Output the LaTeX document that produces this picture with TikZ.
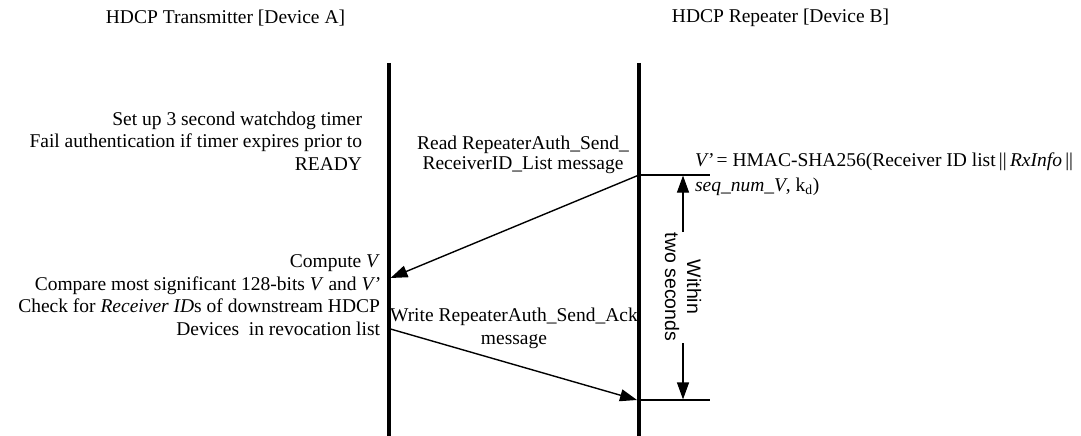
\documentclass[tikz,border=0pt]{standalone}
\usepackage{fontspec}
\setmainfont{Liberation Serif}
\newfontfamily\arialf{Liberation Sans}
\usetikzlibrary{arrows.meta}
\begin{document}
\begin{tikzpicture}[x=1pt,y=-1pt,
  font=\fontsize{19.5}{22.5}\selectfont,
  every node/.style={inner sep=0pt,outer sep=0pt},
  life/.style={line width=4pt},
  msg/.style={line width=1.4pt,-{Triangle[length=17pt,width=12pt]}},
  tick/.style={line width=1.2pt},
  dim/.style={line width=1.2pt,-{Triangle[length=17pt,width=12pt]}},
  lbl/.style={align=center},
  side/.style={align=right,anchor=east}]
\useasboundingbox (0,0) rectangle (1081,436);
% headers
\node (hA) at (225.5,18) {HDCP Transmitter [Device A]};
\node (hB) at (780.5,18) {HDCP Repeater [Device B]};
% lifelines
\coordinate (aTop) at (388.5,63);
\coordinate (aBot) at (388.5,436);
\coordinate (bTop) at (639,63);
\coordinate (bBot) at (639,436);
\draw[life] (aTop) -- (aBot);
\draw[life] (bTop) -- (bBot);
% left texts
\node[side] (t1) at (362,141) {Set up 3 second watchdog timer\\Fail authentication if timer expires prior to\\READY};
\node[side] (t2) at (380,295) {Compute \textit{V}\\Compare most significant 128-bits \textit{V} and \textit{V’}\\Check for \textit{Receiver ID}s of downstream HDCP\\Devices\ \ in revocation list};
% message 1
\coordinate (m1s) at (639,175);
\coordinate (m1e) at (390.5,278);
\draw[msg] (m1s) -- (m1e);
\node[lbl,font=\fontsize{19.5}{20}\selectfont] (l1) at (523,155) {Read RepeaterAuth\_Send\_\\ReceiverID\_List message};
% message 2
\coordinate (m2s) at (390.5,329);
\coordinate (m2e) at (637,400);
\draw[msg] (m2s) -- (m2e);
\node[lbl,font=\fontsize{19.5}{23}\selectfont] (l2) at (514,328.5) {Write RepeaterAuth\_Send\_Ack\\message};
% ticks
\coordinate (k1) at (710,175);
\coordinate (k2) at (710,400);
\draw[tick] (m1s) -- (k1);
\draw[tick] (bBot |- m2e) -- (k2);
% dimension
\node[rotate=-90,align=center,font=\arialf\fontsize{19.5}{22}\selectfont] (w) at (683,287) {Within\\two seconds};
\coordinate (d1s) at (683,232);
\coordinate (d1e) at (683,175.6);
\coordinate (d2s) at (683,343);
\coordinate (d2e) at (683,399.4);
\draw[dim] (d1s) -- (d1e);
\draw[dim] (d2s) -- (d2e);
% formula
\node[align=left,anchor=west,font=\fontsize{19.5}{25}\selectfont] (f) at (695,174.5) {\textit{V’}\,= HMAC-SHA256(Receiver ID list\,||\,\textit{RxInfo}\,||\\\textit{seq\_num\_V}, k\textsubscript{d})};
\end{tikzpicture}
\end{document}
